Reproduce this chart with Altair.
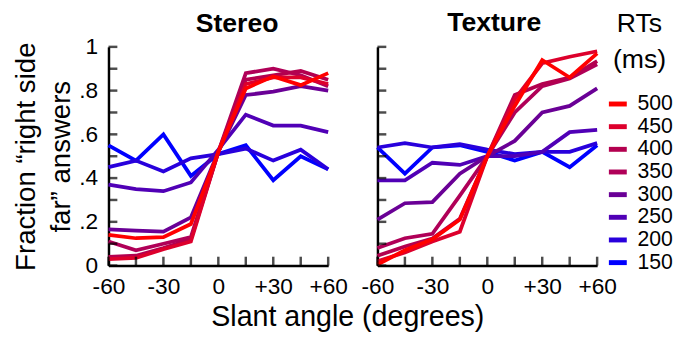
import altair as alt
import pandas as pd

# ---------------- data ----------------
angles = [-60, -45, -30, -15, 0, 15, 30, 45, 60]
rts = [150, 200, 250, 300, 350, 400, 450, 500]
rt_colors = ["#0000ff", "#2800dc", "#5000b6", "#6a0096",
             "#b00058", "#b3004f", "#dd002c", "#ff0000"]

stereo_150 = [0.55, 0.48, 0.60, 0.41, 0.51, 0.55, 0.39, 0.50, 0.44]
stereo_200 = [0.45, 0.48, 0.43, 0.49, 0.51, 0.535, 0.48, 0.53, 0.44]
stereo_250 = [0.37, 0.35, 0.34, 0.38, 0.53, 0.69, 0.64, 0.64, 0.61]
stereo_300 = [0.165, 0.16, 0.155, 0.22, 0.52, 0.78, 0.795, 0.82, 0.80]
stereo_350 = [0.11, 0.07, 0.10, 0.13, 0.52, 0.88, 0.90, 0.87, 0.82]
stereo_400 = [0.04, 0.045, 0.08, 0.12, 0.52, 0.85, 0.87, 0.89, 0.85]
stereo_450 = [0.03, 0.035, 0.075, 0.11, 0.52, 0.83, 0.86, 0.86, 0.83]
stereo_500 = [0.14, 0.125, 0.13, 0.19, 0.52, 0.81, 0.865, 0.825, 0.88]

texture_150 = [0.54, 0.42, 0.54, 0.55, 0.52, 0.48, 0.52, 0.45, 0.55]
texture_200 = [0.54, 0.56, 0.54, 0.555, 0.53, 0.51, 0.52, 0.52, 0.56]
texture_250 = [0.39, 0.39, 0.47, 0.46, 0.50, 0.50, 0.52, 0.61, 0.62]
texture_300 = [0.21, 0.285, 0.29, 0.42, 0.50, 0.57, 0.70, 0.73, 0.81]
texture_350 = [0.08, 0.125, 0.145, 0.32, 0.50, 0.70, 0.82, 0.855, 0.92]
texture_400 = [0.045, 0.087, 0.124, 0.214, 0.50, 0.78, 0.83, 0.86, 0.935]
texture_450 = [0.02, 0.06, 0.11, 0.155, 0.50, 0.76, 0.925, 0.955, 0.98]
texture_500 = [0.005, 0.07, 0.12, 0.21, 0.50, 0.73, 0.94, 0.86, 0.97]

x_tick_positions = [-60, -45, -30, -15, 0, 15, 30, 45, 60]
x_label_values = [-60, -30, 0, 30, 60]
y_tick_positions = [0, 0.1, 0.2, 0.3, 0.4, 0.5, 0.6, 0.7, 0.8, 0.9, 1.0]
y_label_values = [0, 0.2, 0.4, 0.6, 0.8, 1.0]

stereo_series = [stereo_150, stereo_200, stereo_250, stereo_300,
                 stereo_350, stereo_400, stereo_450, stereo_500]
texture_series = [texture_150, texture_200, texture_250, texture_300,
                  texture_350, texture_400, texture_450, texture_500]


def long_df(series):
    rows = []
    for rt, vals in zip(rts, series):
        for a, v in zip(angles, vals):
            rows.append({"rt": rt, "angle": a, "value": v})
    return pd.DataFrame(rows)


xt_df = pd.DataFrame({"v": x_tick_positions})
yt_df = pd.DataFrame({"v": y_tick_positions})

W, H = 223, 222
FONT = "Liberation Sans"
legend_order = list(reversed(rts))
legend_colors = list(reversed(rt_colors))


def panel(title, series, show_y, title_offset, title_dx):
    df = long_df(series)
    xscale = alt.Scale(domain=[-60, 60], nice=False, zero=False)
    yscale = alt.Scale(domain=[0, 1], nice=False)
    xaxis = alt.Axis(values=x_label_values, ticks=False, grid=False,
                     labelExpr="datum.value > 0 ? '+' + datum.value : '' + datum.value",
                     labelFontSize=23, labelPadding=10, domainWidth=2.5,
                     domainColor="black", labelColor="black", title=None,
                     labelFlush=False, labelOverlap=False)
    if show_y:
        yaxis = alt.Axis(values=y_label_values, ticks=False, grid=False,
                         labelExpr="datum.value == 0 ? '0' : datum.value == 1 ? '1' : '.' + round(datum.value * 10)",
                         labelFontSize=23, labelPadding=11, domainWidth=2.5,
                         domainColor="black", labelColor="black",
                         title=["Fraction \u201cright side", "far\u201d answers"],
                         titleFontSize=28, titleFontWeight="normal",
                         titleLineHeight=36, titlePadding=3, titleColor="black")
    else:
        yaxis = alt.Axis(values=y_label_values, ticks=False, grid=False,
                         labels=False, domainWidth=2.5, domainColor="black",
                         title=None)

    lines = alt.Chart(df).mark_line(strokeWidth=3.8).encode(
        x=alt.X("angle:Q", scale=xscale, axis=xaxis),
        y=alt.Y("value:Q", scale=yscale, axis=yaxis),
        color=alt.Color("rt:O",
                        scale=alt.Scale(domain=legend_order, range=legend_colors),
                        legend=alt.Legend(title=["RTs", "(ms)"],
                                          titleFontSize=27, titleFontWeight="normal",
                                          titleLineHeight=36, titleAnchor="middle",
                                          titleAlign="center", titlePadding=19,
                                          titleColor="black",
                                          labelFontSize=21.5, labelColor="black",
                                          symbolType="stroke", symbolStrokeWidth=5,
                                          symbolSize=330, labelOffset=8,
                                          rowPadding=0,
                                          orient="none",
                                          legendX=505, legendY=-36)),
    )
    yticks = alt.Chart(yt_df).mark_tick(orient="horizontal", size=9, thickness=2.5,
                                        color="black").encode(
        y=alt.Y("v:Q", scale=yscale), x=alt.value(4.5))
    xticks = alt.Chart(xt_df).mark_tick(orient="vertical", size=9, thickness=2.5,
                                        color="black").encode(
        x=alt.X("v:Q", scale=xscale), y=alt.value(H - 4.5))
    return alt.layer(lines, yticks, xticks).properties(
        width=W, height=H,
        title=alt.TitleParams(title, fontSize=27, fontWeight="bold",
                              offset=title_offset, dx=title_dx, color="black"))


chart = alt.hconcat(
    panel("Stereo", stereo_series, True, -2, 19),
    panel("Texture", texture_series, False, 7, 7),
    spacing=50, bounds="flush",
).properties(
    title=alt.TitleParams("Slant angle (degrees)", orient="bottom", fontSize=29,
                          fontWeight="normal", anchor="middle", color="black",
                          offset=5, dx=5),
    padding={"left": 4, "top": -2, "right": 0, "bottom": 0},
).configure(font=FONT).configure_view(stroke=None)

chart.save("out.html", embed_options={"renderer": "svg", "actions": False})
